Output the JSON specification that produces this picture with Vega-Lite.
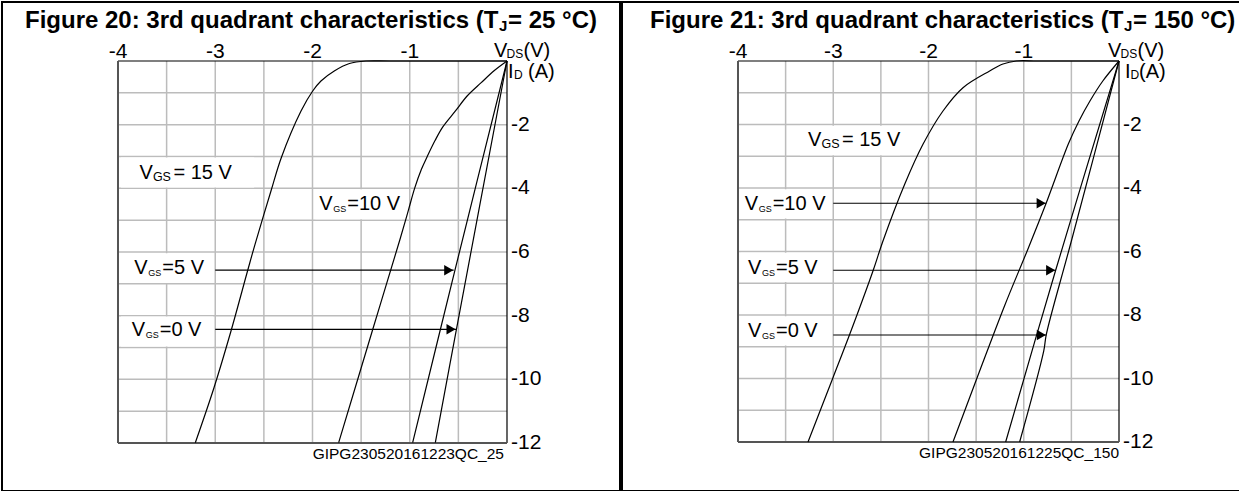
{
"$schema": "https://vega.github.io/schema/vega-lite/v6.json",
"padding": {"left": 1, "top": 1, "right": 1, "bottom": 1},
"spacing": 0,
"background": "white",
"config": {
  "view": {"stroke": "#000", "strokeWidth": 2},
  "font": "Liberation Sans",
  "text": {"font": "Liberation Sans", "color": "#000"}
},
"datasets": {
  "gv": [{"v": -3.5}, {"v": -3}, {"v": -2.5}, {"v": -2}, {"v": -1.5}, {"v": -1}, {"v": -0.5}],
  "gh": [{"i": -1}, {"i": -2}, {"i": -3}, {"i": -4}, {"i": -5}, {"i": -6}, {"i": -7}, {"i": -8}, {"i": -9}, {"i": -10}, {"i": -11}],
  "xt": [{"v": -4, "t": "-4"}, {"v": -3, "t": "-3"}, {"v": -2, "t": "-2"}, {"v": -1, "t": "-1"}],
  "yt": [{"i": -2, "t": "-2"}, {"i": -4, "t": "-4"}, {"i": -6, "t": "-6"}, {"i": -8, "t": "-8"}, {"i": -10, "t": "-10"}, {"i": -12, "t": "-12"}],
  "boxes": [
    {"p": "L", "v1": -3.97, "v2": -2.6, "i1": -3.03, "i2": -3.97},
    {"p": "L", "v1": -1.97, "v2": -1.08, "i1": -4.03, "i2": -4.97},
    {"p": "L", "v1": -3.97, "v2": -3.02, "i1": -6.04, "i2": -6.97},
    {"p": "L", "v1": -3.97, "v2": -3.02, "i1": -8.03, "i2": -8.97},
    {"p": "R", "v1": -3.35, "v2": -2.3, "i1": -2.04, "i2": -2.97},
    {"p": "R", "v1": -3.97, "v2": -3.02, "i1": -4.04, "i2": -4.96},
    {"p": "R", "v1": -3.97, "v2": -3.02, "i1": -6.04, "i2": -6.96},
    {"p": "R", "v1": -3.97, "v2": -3.02, "i1": -8.04, "i2": -8.96}
  ],
  "labels": [
    {"p": "L", "k": "big", "v": -3.78, "i": -3.716, "rest": "= 15 V"},
    {"p": "L", "k": "small", "v": -1.93, "i": -4.69, "rest": "=10 V"},
    {"p": "L", "k": "small", "v": -3.832, "i": -6.70, "rest": "=5 V"},
    {"p": "L", "k": "small", "v": -3.859, "i": -8.64, "rest": "=0 V"},
    {"p": "R", "k": "big", "v": -3.265, "i": -2.677, "rest": "= 15 V"},
    {"p": "R", "k": "small", "v": -3.93, "i": -4.70, "rest": "=10 V"},
    {"p": "R", "k": "small", "v": -3.895, "i": -6.72, "rest": "=5 V"},
    {"p": "R", "k": "small", "v": -3.895, "i": -8.68, "rest": "=0 V"}
  ],
  "arrows": [
    {"p": "L", "v1": -3.0, "v2": -0.548, "i": -6.57},
    {"p": "L", "v1": -3.0, "v2": -0.524, "i": -8.43},
    {"p": "R", "v1": -3.0, "v2": -0.765, "i": -4.48},
    {"p": "R", "v1": -3.0, "v2": -0.665, "i": -6.59},
    {"p": "R", "v1": -3.0, "v2": -0.763, "i": -8.63}
  ],
  "curves": [
    {"p": "L", "g": "15", "v": -3.205, "i": -11.99},
    {"p": "L", "g": "15", "v": -3.013, "i": -10.263},
    {"p": "L", "g": "15", "v": -2.838, "i": -8.482},
    {"p": "L", "g": "15", "v": -2.668, "i": -6.597},
    {"p": "L", "g": "15", "v": -2.591, "i": -5.758},
    {"p": "L", "g": "15", "v": -2.427, "i": -4.084},
    {"p": "L", "g": "15", "v": -2.321, "i": -3.038},
    {"p": "L", "g": "15", "v": -2.118, "i": -1.571},
    {"p": "L", "g": "15", "v": -1.998, "i": -0.942},
    {"p": "L", "g": "15", "v": -1.913, "i": -0.628},
    {"p": "L", "g": "15", "v": -1.776, "i": -0.314},
    {"p": "L", "g": "15", "v": -1.62, "i": -0.08},
    {"p": "L", "g": "15", "v": -1.45, "i": 0},
    {"p": "L", "g": "15", "v": -1.2, "i": 0},
    {"p": "L", "g": "15", "v": 0, "i": 0},
    {"p": "L", "g": "10", "v": 0, "i": 0},
    {"p": "L", "g": "10", "v": -0.13, "i": -0.3},
    {"p": "L", "g": "10", "v": -0.265, "i": -0.68},
    {"p": "L", "g": "10", "v": -0.41, "i": -1.1},
    {"p": "L", "g": "10", "v": -0.53, "i": -1.57},
    {"p": "L", "g": "10", "v": -0.66, "i": -2.07},
    {"p": "L", "g": "10", "v": -0.74, "i": -2.5},
    {"p": "L", "g": "10", "v": -0.82, "i": -3.0},
    {"p": "L", "g": "10", "v": -0.88, "i": -3.4},
    {"p": "L", "g": "10", "v": -0.95, "i": -4.0},
    {"p": "L", "g": "10", "v": -1.015, "i": -4.7},
    {"p": "L", "g": "10", "v": -1.1, "i": -5.6},
    {"p": "L", "g": "10", "v": -1.38, "i": -8.428},
    {"p": "L", "g": "10", "v": -1.731, "i": -11.99},
    {"p": "L", "g": "5", "v": 0, "i": 0},
    {"p": "L", "g": "5", "v": -0.535, "i": -6.57},
    {"p": "L", "g": "5", "v": -0.97, "i": -11.99},
    {"p": "L", "g": "0", "v": 0, "i": 0},
    {"p": "L", "g": "0", "v": -0.52, "i": -8.43},
    {"p": "L", "g": "0", "v": -0.737, "i": -11.99},
    {"p": "R", "g": "15", "v": -3.265, "i": -12.0},
    {"p": "R", "g": "15", "v": -3.003, "i": -9.975},
    {"p": "R", "g": "15", "v": -2.827, "i": -8.608},
    {"p": "R", "g": "15", "v": -2.583, "i": -6.614},
    {"p": "R", "g": "15", "v": -2.478, "i": -5.669},
    {"p": "R", "g": "15", "v": -2.25, "i": -3.883},
    {"p": "R", "g": "15", "v": -2.058, "i": -2.624},
    {"p": "R", "g": "15", "v": -1.848, "i": -1.575},
    {"p": "R", "g": "15", "v": -1.638, "i": -0.841},
    {"p": "R", "g": "15", "v": -1.358, "i": -0.315},
    {"p": "R", "g": "15", "v": -1.218, "i": -0.094},
    {"p": "R", "g": "15", "v": -1.078, "i": 0},
    {"p": "R", "g": "15", "v": -0.85, "i": 0},
    {"p": "R", "g": "15", "v": 0, "i": 0},
    {"p": "R", "g": "10", "v": 0, "i": 0},
    {"p": "R", "g": "10", "v": -0.17, "i": -0.63},
    {"p": "R", "g": "10", "v": -0.305, "i": -1.26},
    {"p": "R", "g": "10", "v": -0.42, "i": -1.89},
    {"p": "R", "g": "10", "v": -0.53, "i": -2.6},
    {"p": "R", "g": "10", "v": -0.765, "i": -4.48},
    {"p": "R", "g": "10", "v": -0.96, "i": -5.95},
    {"p": "R", "g": "10", "v": -1.2, "i": -7.7},
    {"p": "R", "g": "10", "v": -1.48, "i": -9.9},
    {"p": "R", "g": "10", "v": -1.743, "i": -12.0},
    {"p": "R", "g": "5", "v": 0, "i": 0},
    {"p": "R", "g": "5", "v": -0.665, "i": -6.59},
    {"p": "R", "g": "5", "v": -1.19, "i": -12.0},
    {"p": "R", "g": "0", "v": 0, "i": 0},
    {"p": "R", "g": "0", "v": -0.5, "i": -5.67},
    {"p": "R", "g": "0", "v": -0.763, "i": -8.61},
    {"p": "R", "g": "0", "v": -0.79, "i": -9.13},
    {"p": "R", "g": "0", "v": -1.043, "i": -12.0}
  ]
},
"resolve": {"scale": {"x": "independent", "y": "independent"}},
"hconcat": [
{
  "width": 618, "height": 489,
  "layer": [
    {"data": {"name": "gv"}, "mark": {"type": "rule", "color": "#bcbcbc", "strokeWidth": 1.5},
     "encoding": {
       "x": {"field": "v", "type": "quantitative", "scale": {"domain": [-5.1928, 1.162], "nice": false, "zero": false}, "axis": null},
       "y": {"datum": 0, "type": "quantitative", "scale": {"domain": [-13.508, 1.8534], "nice": false, "zero": false}, "axis": null},
       "y2": {"datum": -12}}},
    {"data": {"name": "gh"}, "mark": {"type": "rule", "color": "#bcbcbc", "strokeWidth": 1.5},
     "encoding": {"y": {"field": "i", "type": "quantitative", "axis": null}, "x": {"datum": -4, "type": "quantitative", "axis": null}, "x2": {"datum": 0}}},
    {"data": {"name": "boxes"}, "transform": [{"filter": "datum.p == 'L'"}], "mark": {"type": "rect", "fill": "white"},
     "encoding": {"x": {"field": "v1", "type": "quantitative", "axis": null}, "x2": {"field": "v2"}, "y": {"field": "i1", "type": "quantitative", "axis": null}, "y2": {"field": "i2"}}},
    {"data": {"values": [{}]}, "mark": {"type": "rule", "color": "#000", "strokeWidth": 1.2},
     "encoding": {"x": {"datum": -4, "type": "quantitative", "axis": null}, "x2": {"datum": 0}, "y": {"datum": 0, "type": "quantitative", "axis": null}}},
    {"data": {"values": [{}]}, "mark": {"type": "rule", "color": "#000", "strokeWidth": 1.2},
     "encoding": {"x": {"datum": 0, "type": "quantitative", "axis": null}, "y": {"datum": 0, "type": "quantitative", "axis": null}, "y2": {"datum": -12}}},
    {"data": {"values": [{}]}, "mark": {"type": "rule", "color": "#555", "strokeWidth": 2},
     "encoding": {"x": {"datum": -4, "type": "quantitative", "axis": null}, "y": {"datum": 0, "type": "quantitative", "axis": null}, "y2": {"datum": -12}}},
    {"data": {"values": [{}]}, "mark": {"type": "rule", "color": "#555", "strokeWidth": 2},
     "encoding": {"x": {"datum": -4, "type": "quantitative", "axis": null}, "x2": {"datum": 0}, "y": {"datum": -12, "type": "quantitative", "axis": null}}},
    {"data": {"name": "curves"}, "transform": [{"filter": "datum.p == 'L'"}], "mark": {"type": "line", "color": "#000", "strokeWidth": 1.2, "interpolate": "catmull-rom"},
     "encoding": {"x": {"field": "v", "type": "quantitative", "axis": null}, "y": {"field": "i", "type": "quantitative", "axis": null}, "detail": {"field": "g"}}},
    {"data": {"name": "arrows"}, "transform": [{"filter": "datum.p == 'L'"}], "mark": {"type": "rule", "color": "#000", "strokeWidth": 1.2},
     "encoding": {"x": {"field": "v1", "type": "quantitative", "axis": null}, "x2": {"field": "v2"}, "y": {"field": "i", "type": "quantitative", "axis": null}}},
    {"data": {"name": "arrows"}, "transform": [{"filter": "datum.p == 'L'"}], "mark": {"type": "point", "shape": "triangle-right", "filled": true, "color": "#000", "opacity": 1, "size": 110, "xOffset": -5},
     "encoding": {"x": {"field": "v2", "type": "quantitative", "axis": null}, "y": {"field": "i", "type": "quantitative", "axis": null}}},
    {"data": {"name": "xt"}, "mark": {"type": "text", "align": "center", "baseline": "alphabetic", "font": "Liberation Sans Narrow, Liberation Sans", "fontSize": 21, "dy": -3},
     "encoding": {"x": {"field": "v", "type": "quantitative", "axis": null}, "y": {"datum": 0, "type": "quantitative", "axis": null}, "text": {"field": "t"}}},
    {"data": {"name": "yt"}, "mark": {"type": "text", "align": "left", "baseline": "middle", "font": "Liberation Sans Narrow, Liberation Sans", "fontSize": 21, "dx": 4},
     "encoding": {"x": {"datum": 0, "type": "quantitative", "axis": null}, "y": {"field": "i", "type": "quantitative", "axis": null}, "text": {"field": "t"}}},
    {"data": {"name": "labels"}, "transform": [{"filter": "datum.p == 'L'"}], "mark": {"type": "text", "text": "V", "align": "left", "baseline": "alphabetic", "fontSize": 20},
     "encoding": {"x": {"field": "v", "type": "quantitative", "axis": null}, "y": {"field": "i", "type": "quantitative", "axis": null}}},
    {"data": {"name": "labels"}, "transform": [{"filter": "datum.p == 'L' && datum.k == 'big'"}], "mark": {"type": "text", "text": "GS", "align": "left", "baseline": "alphabetic", "fontSize": 12.5, "dx": 13.5, "dy": 2},
     "encoding": {"x": {"field": "v", "type": "quantitative", "axis": null}, "y": {"field": "i", "type": "quantitative", "axis": null}}},
    {"data": {"name": "labels"}, "transform": [{"filter": "datum.p == 'L' && datum.k == 'small'"}], "mark": {"type": "text", "text": "GS", "align": "left", "baseline": "alphabetic", "fontSize": 9, "dx": 14, "dy": 2},
     "encoding": {"x": {"field": "v", "type": "quantitative", "axis": null}, "y": {"field": "i", "type": "quantitative", "axis": null}}},
    {"data": {"name": "labels"}, "transform": [{"filter": "datum.p == 'L' && datum.k == 'big'"}], "mark": {"type": "text", "align": "left", "baseline": "alphabetic", "fontSize": 20, "dx": 34},
     "encoding": {"x": {"field": "v", "type": "quantitative", "axis": null}, "y": {"field": "i", "type": "quantitative", "axis": null}, "text": {"field": "rest"}}},
    {"data": {"name": "labels"}, "transform": [{"filter": "datum.p == 'L' && datum.k == 'small'"}], "mark": {"type": "text", "align": "left", "baseline": "alphabetic", "fontSize": 20, "dx": 28},
     "encoding": {"x": {"field": "v", "type": "quantitative", "axis": null}, "y": {"field": "i", "type": "quantitative", "axis": null}, "text": {"field": "rest"}}},
    {"data": {"values": [{}]}, "mark": {"type": "text", "text": "V", "align": "left", "baseline": "alphabetic", "fontSize": 20, "dx": -13, "dy": -4},
     "encoding": {"x": {"datum": 0, "type": "quantitative", "axis": null}, "y": {"datum": 0, "type": "quantitative", "axis": null}}},
    {"data": {"values": [{}]}, "mark": {"type": "text", "text": "DS", "align": "left", "baseline": "alphabetic", "fontSize": 12, "dx": -0.5, "dy": -3},
     "encoding": {"x": {"datum": 0, "type": "quantitative", "axis": null}, "y": {"datum": 0, "type": "quantitative", "axis": null}}},
    {"data": {"values": [{}]}, "mark": {"type": "text", "text": "(V)", "align": "left", "baseline": "alphabetic", "fontSize": 20, "dx": 16.5, "dy": -4},
     "encoding": {"x": {"datum": 0, "type": "quantitative", "axis": null}, "y": {"datum": 0, "type": "quantitative", "axis": null}}},
    {"data": {"values": [{}]}, "mark": {"type": "text", "text": "I", "align": "left", "baseline": "alphabetic", "fontSize": 20, "dx": 1, "dy": 17},
     "encoding": {"x": {"datum": 0, "type": "quantitative", "axis": null}, "y": {"datum": 0, "type": "quantitative", "axis": null}}},
    {"data": {"values": [{}]}, "mark": {"type": "text", "text": "D", "align": "left", "baseline": "alphabetic", "fontSize": 12, "dx": 7, "dy": 18},
     "encoding": {"x": {"datum": 0, "type": "quantitative", "axis": null}, "y": {"datum": 0, "type": "quantitative", "axis": null}}},
    {"data": {"values": [{}]}, "mark": {"type": "text", "text": "(A)", "align": "left", "baseline": "alphabetic", "fontSize": 20, "dx": 21, "dy": 17},
     "encoding": {"x": {"datum": 0, "type": "quantitative", "axis": null}, "y": {"datum": 0, "type": "quantitative", "axis": null}}},
    {"data": {"values": [{}]}, "mark": {"type": "text", "text": "GIPG230520161223QC_25", "align": "right", "baseline": "top", "fontSize": 15.5, "dx": -3, "dy": 4},
     "encoding": {"x": {"datum": 0, "type": "quantitative", "axis": null}, "y": {"datum": -12, "type": "quantitative", "axis": null}}},
    {"data": {"values": [{}]}, "mark": {"type": "text", "text": "Figure 20: 3rd quadrant characteristics (T", "align": "left", "baseline": "alphabetic", "fontSize": 24, "fontWeight": "bold", "dx": -93, "dy": -33},
     "encoding": {"x": {"datum": -4, "type": "quantitative", "axis": null}, "y": {"datum": 0, "type": "quantitative", "axis": null}}},
    {"data": {"values": [{}]}, "mark": {"type": "text", "text": "J", "align": "left", "baseline": "alphabetic", "fontSize": 15, "fontWeight": "bold", "dx": 381, "dy": -30},
     "encoding": {"x": {"datum": -4, "type": "quantitative", "axis": null}, "y": {"datum": 0, "type": "quantitative", "axis": null}}},
    {"data": {"values": [{}]}, "mark": {"type": "text", "text": "= 25 °C)", "align": "left", "baseline": "alphabetic", "fontSize": 24, "fontWeight": "bold", "dx": 390, "dy": -33},
     "encoding": {"x": {"datum": -4, "type": "quantitative", "axis": null}, "y": {"datum": 0, "type": "quantitative", "axis": null}}}
  ]
},
{
  "width": 618, "height": 489,
  "layer": [
    {"data": {"name": "gv"}, "mark": {"type": "rule", "color": "#bcbcbc", "strokeWidth": 1.5},
     "encoding": {
       "x": {"field": "v", "type": "quantitative", "scale": {"domain": [-5.2178, 1.2703], "nice": false, "zero": false}, "axis": null},
       "y": {"datum": 0, "type": "quantitative", "scale": {"domain": [-13.5433, 1.8583], "nice": false, "zero": false}, "axis": null},
       "y2": {"datum": -12}}},
    {"data": {"name": "gh"}, "mark": {"type": "rule", "color": "#bcbcbc", "strokeWidth": 1.5},
     "encoding": {"y": {"field": "i", "type": "quantitative", "axis": null}, "x": {"datum": -4, "type": "quantitative", "axis": null}, "x2": {"datum": 0}}},
    {"data": {"name": "boxes"}, "transform": [{"filter": "datum.p == 'R'"}], "mark": {"type": "rect", "fill": "white"},
     "encoding": {"x": {"field": "v1", "type": "quantitative", "axis": null}, "x2": {"field": "v2"}, "y": {"field": "i1", "type": "quantitative", "axis": null}, "y2": {"field": "i2"}}},
    {"data": {"values": [{}]}, "mark": {"type": "rule", "color": "#000", "strokeWidth": 1.2},
     "encoding": {"x": {"datum": -4, "type": "quantitative", "axis": null}, "x2": {"datum": 0}, "y": {"datum": 0, "type": "quantitative", "axis": null}}},
    {"data": {"values": [{}]}, "mark": {"type": "rule", "color": "#000", "strokeWidth": 1.2},
     "encoding": {"x": {"datum": 0, "type": "quantitative", "axis": null}, "y": {"datum": 0, "type": "quantitative", "axis": null}, "y2": {"datum": -12}}},
    {"data": {"values": [{}]}, "mark": {"type": "rule", "color": "#555", "strokeWidth": 2},
     "encoding": {"x": {"datum": -4, "type": "quantitative", "axis": null}, "y": {"datum": 0, "type": "quantitative", "axis": null}, "y2": {"datum": -12}}},
    {"data": {"values": [{}]}, "mark": {"type": "rule", "color": "#555", "strokeWidth": 2},
     "encoding": {"x": {"datum": -4, "type": "quantitative", "axis": null}, "x2": {"datum": 0}, "y": {"datum": -12, "type": "quantitative", "axis": null}}},
    {"data": {"name": "curves"}, "transform": [{"filter": "datum.p == 'R'"}], "mark": {"type": "line", "color": "#000", "strokeWidth": 1.2, "interpolate": "catmull-rom"},
     "encoding": {"x": {"field": "v", "type": "quantitative", "axis": null}, "y": {"field": "i", "type": "quantitative", "axis": null}, "detail": {"field": "g"}}},
    {"data": {"name": "arrows"}, "transform": [{"filter": "datum.p == 'R'"}], "mark": {"type": "rule", "color": "#000", "strokeWidth": 1.2},
     "encoding": {"x": {"field": "v1", "type": "quantitative", "axis": null}, "x2": {"field": "v2"}, "y": {"field": "i", "type": "quantitative", "axis": null}}},
    {"data": {"name": "arrows"}, "transform": [{"filter": "datum.p == 'R'"}], "mark": {"type": "point", "shape": "triangle-right", "filled": true, "color": "#000", "opacity": 1, "size": 110, "xOffset": -5},
     "encoding": {"x": {"field": "v2", "type": "quantitative", "axis": null}, "y": {"field": "i", "type": "quantitative", "axis": null}}},
    {"data": {"name": "xt"}, "mark": {"type": "text", "align": "center", "baseline": "alphabetic", "font": "Liberation Sans Narrow, Liberation Sans", "fontSize": 21, "dy": -3},
     "encoding": {"x": {"field": "v", "type": "quantitative", "axis": null}, "y": {"datum": 0, "type": "quantitative", "axis": null}, "text": {"field": "t"}}},
    {"data": {"name": "yt"}, "mark": {"type": "text", "align": "left", "baseline": "middle", "font": "Liberation Sans Narrow, Liberation Sans", "fontSize": 21, "dx": 4},
     "encoding": {"x": {"datum": 0, "type": "quantitative", "axis": null}, "y": {"field": "i", "type": "quantitative", "axis": null}, "text": {"field": "t"}}},
    {"data": {"name": "labels"}, "transform": [{"filter": "datum.p == 'R'"}], "mark": {"type": "text", "text": "V", "align": "left", "baseline": "alphabetic", "fontSize": 20},
     "encoding": {"x": {"field": "v", "type": "quantitative", "axis": null}, "y": {"field": "i", "type": "quantitative", "axis": null}}},
    {"data": {"name": "labels"}, "transform": [{"filter": "datum.p == 'R' && datum.k == 'big'"}], "mark": {"type": "text", "text": "GS", "align": "left", "baseline": "alphabetic", "fontSize": 12.5, "dx": 13.5, "dy": 2},
     "encoding": {"x": {"field": "v", "type": "quantitative", "axis": null}, "y": {"field": "i", "type": "quantitative", "axis": null}}},
    {"data": {"name": "labels"}, "transform": [{"filter": "datum.p == 'R' && datum.k == 'small'"}], "mark": {"type": "text", "text": "GS", "align": "left", "baseline": "alphabetic", "fontSize": 9, "dx": 14, "dy": 2},
     "encoding": {"x": {"field": "v", "type": "quantitative", "axis": null}, "y": {"field": "i", "type": "quantitative", "axis": null}}},
    {"data": {"name": "labels"}, "transform": [{"filter": "datum.p == 'R' && datum.k == 'big'"}], "mark": {"type": "text", "align": "left", "baseline": "alphabetic", "fontSize": 20, "dx": 34},
     "encoding": {"x": {"field": "v", "type": "quantitative", "axis": null}, "y": {"field": "i", "type": "quantitative", "axis": null}, "text": {"field": "rest"}}},
    {"data": {"name": "labels"}, "transform": [{"filter": "datum.p == 'R' && datum.k == 'small'"}], "mark": {"type": "text", "align": "left", "baseline": "alphabetic", "fontSize": 20, "dx": 28},
     "encoding": {"x": {"field": "v", "type": "quantitative", "axis": null}, "y": {"field": "i", "type": "quantitative", "axis": null}, "text": {"field": "rest"}}},
    {"data": {"values": [{}]}, "mark": {"type": "text", "text": "V", "align": "left", "baseline": "alphabetic", "fontSize": 20, "dx": -11, "dy": -4},
     "encoding": {"x": {"datum": 0, "type": "quantitative", "axis": null}, "y": {"datum": 0, "type": "quantitative", "axis": null}}},
    {"data": {"values": [{}]}, "mark": {"type": "text", "text": "DS", "align": "left", "baseline": "alphabetic", "fontSize": 12, "dx": 1.5, "dy": -3},
     "encoding": {"x": {"datum": 0, "type": "quantitative", "axis": null}, "y": {"datum": 0, "type": "quantitative", "axis": null}}},
    {"data": {"values": [{}]}, "mark": {"type": "text", "text": "(V)", "align": "left", "baseline": "alphabetic", "fontSize": 20, "dx": 18.5, "dy": -4},
     "encoding": {"x": {"datum": 0, "type": "quantitative", "axis": null}, "y": {"datum": 0, "type": "quantitative", "axis": null}}},
    {"data": {"values": [{}]}, "mark": {"type": "text", "text": "I", "align": "left", "baseline": "alphabetic", "fontSize": 20, "dx": 6, "dy": 17},
     "encoding": {"x": {"datum": 0, "type": "quantitative", "axis": null}, "y": {"datum": 0, "type": "quantitative", "axis": null}}},
    {"data": {"values": [{}]}, "mark": {"type": "text", "text": "D", "align": "left", "baseline": "alphabetic", "fontSize": 12, "dx": 11.5, "dy": 18},
     "encoding": {"x": {"datum": 0, "type": "quantitative", "axis": null}, "y": {"datum": 0, "type": "quantitative", "axis": null}}},
    {"data": {"values": [{}]}, "mark": {"type": "text", "text": "(A)", "align": "left", "baseline": "alphabetic", "fontSize": 20, "dx": 20, "dy": 17},
     "encoding": {"x": {"datum": 0, "type": "quantitative", "axis": null}, "y": {"datum": 0, "type": "quantitative", "axis": null}}},
    {"data": {"values": [{}]}, "mark": {"type": "text", "text": "GIPG230520161225QC_150", "align": "right", "baseline": "top", "fontSize": 15.5, "dx": 0, "dy": 4},
     "encoding": {"x": {"datum": 0, "type": "quantitative", "axis": null}, "y": {"datum": -12, "type": "quantitative", "axis": null}}},
    {"data": {"values": [{}]}, "mark": {"type": "text", "text": "Figure 21: 3rd quadrant characteristics (T", "align": "left", "baseline": "alphabetic", "fontSize": 24, "fontWeight": "bold", "dx": -88, "dy": -33},
     "encoding": {"x": {"datum": -4, "type": "quantitative", "axis": null}, "y": {"datum": 0, "type": "quantitative", "axis": null}}},
    {"data": {"values": [{}]}, "mark": {"type": "text", "text": "J", "align": "left", "baseline": "alphabetic", "fontSize": 15, "fontWeight": "bold", "dx": 386, "dy": -30},
     "encoding": {"x": {"datum": -4, "type": "quantitative", "axis": null}, "y": {"datum": 0, "type": "quantitative", "axis": null}}},
    {"data": {"values": [{}]}, "mark": {"type": "text", "text": "= 150 °C)", "align": "left", "baseline": "alphabetic", "fontSize": 24, "fontWeight": "bold", "dx": 395, "dy": -33},
     "encoding": {"x": {"datum": -4, "type": "quantitative", "axis": null}, "y": {"datum": 0, "type": "quantitative", "axis": null}}}
  ]
}
]
}
